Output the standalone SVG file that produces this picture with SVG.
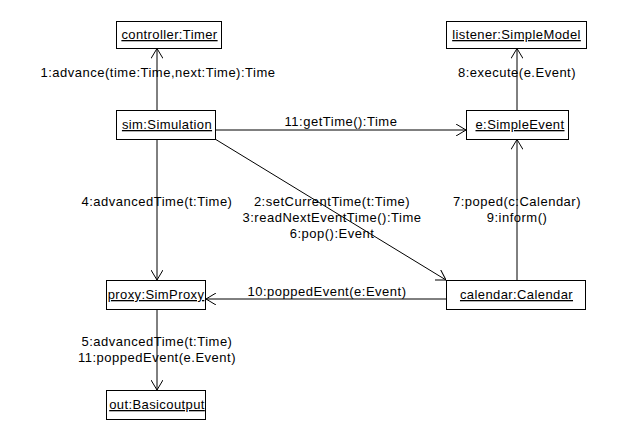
<svg xmlns="http://www.w3.org/2000/svg" width="619" height="440" viewBox="0 0 619 440">
<defs>
<style>
.box{fill:#fff;stroke:#000;stroke-width:1}
.name{font-family:"Liberation Sans",Arial,sans-serif;font-size:13px;letter-spacing:0.4px;text-anchor:middle;text-decoration:underline;fill:#000}
.lbl{font-family:"Liberation Sans",Arial,sans-serif;font-size:13px;letter-spacing:0.5px;text-anchor:middle;fill:#000}
.ln{stroke:#000;stroke-width:1;fill:none;marker-end:url(#arr)}
</style>
<marker id="arr" viewBox="0 0 10 12" refX="10" refY="6" markerWidth="10" markerHeight="12" markerUnits="userSpaceOnUse" orient="auto">
<path d="M0,0 L10,6 L0,12" fill="none" stroke="#000" stroke-width="1"/>
</marker>
</defs>
<rect width="619" height="440" fill="#fff"/>
<g id="connectors">
<line class="ln" x1="157" y1="110" x2="157" y2="48.5"/>
<line class="ln" x1="215" y1="130" x2="466" y2="130"/>
<line class="ln" x1="517" y1="110" x2="517" y2="48.5"/>
<line class="ln" x1="157" y1="140" x2="157" y2="280"/>
<line class="ln" x1="215" y1="139" x2="446" y2="280"/>
<line class="ln" x1="517" y1="280" x2="517" y2="139.5"/>
<line class="ln" x1="446" y1="299" x2="206" y2="299"/>
<line class="ln" x1="157" y1="310" x2="157" y2="390"/>
<text class="lbl" x="158" y="77">1:advance(time:Time,next:Time):Time</text>
<text class="lbl" x="517" y="77">8:execute(e.Event)</text>
<text class="lbl" x="341" y="126">11:getTime():Time</text>
<text class="lbl" x="157" y="206">4:advancedTime(t:Time)</text>
<text class="lbl" x="332" y="206">2:setCurrentTime(t:Time)</text>
<text class="lbl" x="332" y="222">3:readNextEventTime():Time</text>
<text class="lbl" x="332" y="238">6:pop():Event</text>
<text class="lbl" x="517" y="206">7:poped(c:Calendar)</text>
<text class="lbl" x="517" y="222">9:inform()</text>
<text class="lbl" x="327" y="296">10:poppedEvent(e:Event)</text>
<text class="lbl" x="157" y="346">5:advancedTime(t:Time)</text>
<text class="lbl" x="157" y="362">11:poppedEvent(e.Event)</text>
</g>
<g id="controller">
<rect class="box" x="116.5" y="21.5" width="105" height="27"/>
<text class="name" x="169.5" y="39">controller:Timer</text>
</g>
<g id="listener">
<rect class="box" x="446.5" y="21.5" width="140" height="27"/>
<text class="name" x="516.5" y="39">listener:SimpleModel</text>
</g>
<g id="sim">
<rect class="box" x="116.5" y="110.5" width="99" height="29"/>
<text class="name" x="167" y="129">sim:Simulation</text>
</g>
<g id="event">
<rect class="box" x="466.5" y="110.5" width="102" height="29"/>
<text class="name" x="520" y="129">e:SimpleEvent</text>
</g>
<g id="proxy">
<rect class="box" x="106.5" y="280.5" width="99" height="29"/>
<text class="name" x="156" y="299">proxy:SimProxy</text>
</g>
<g id="calendar">
<rect class="box" x="446.5" y="280.5" width="139" height="29"/>
<text class="name" x="516.5" y="299">calendar:Calendar</text>
</g>
<g id="out">
<rect class="box" x="106.5" y="390.5" width="99" height="29"/>
<text class="name" x="157" y="409">out:Basicoutput</text>
</g>
</svg>
